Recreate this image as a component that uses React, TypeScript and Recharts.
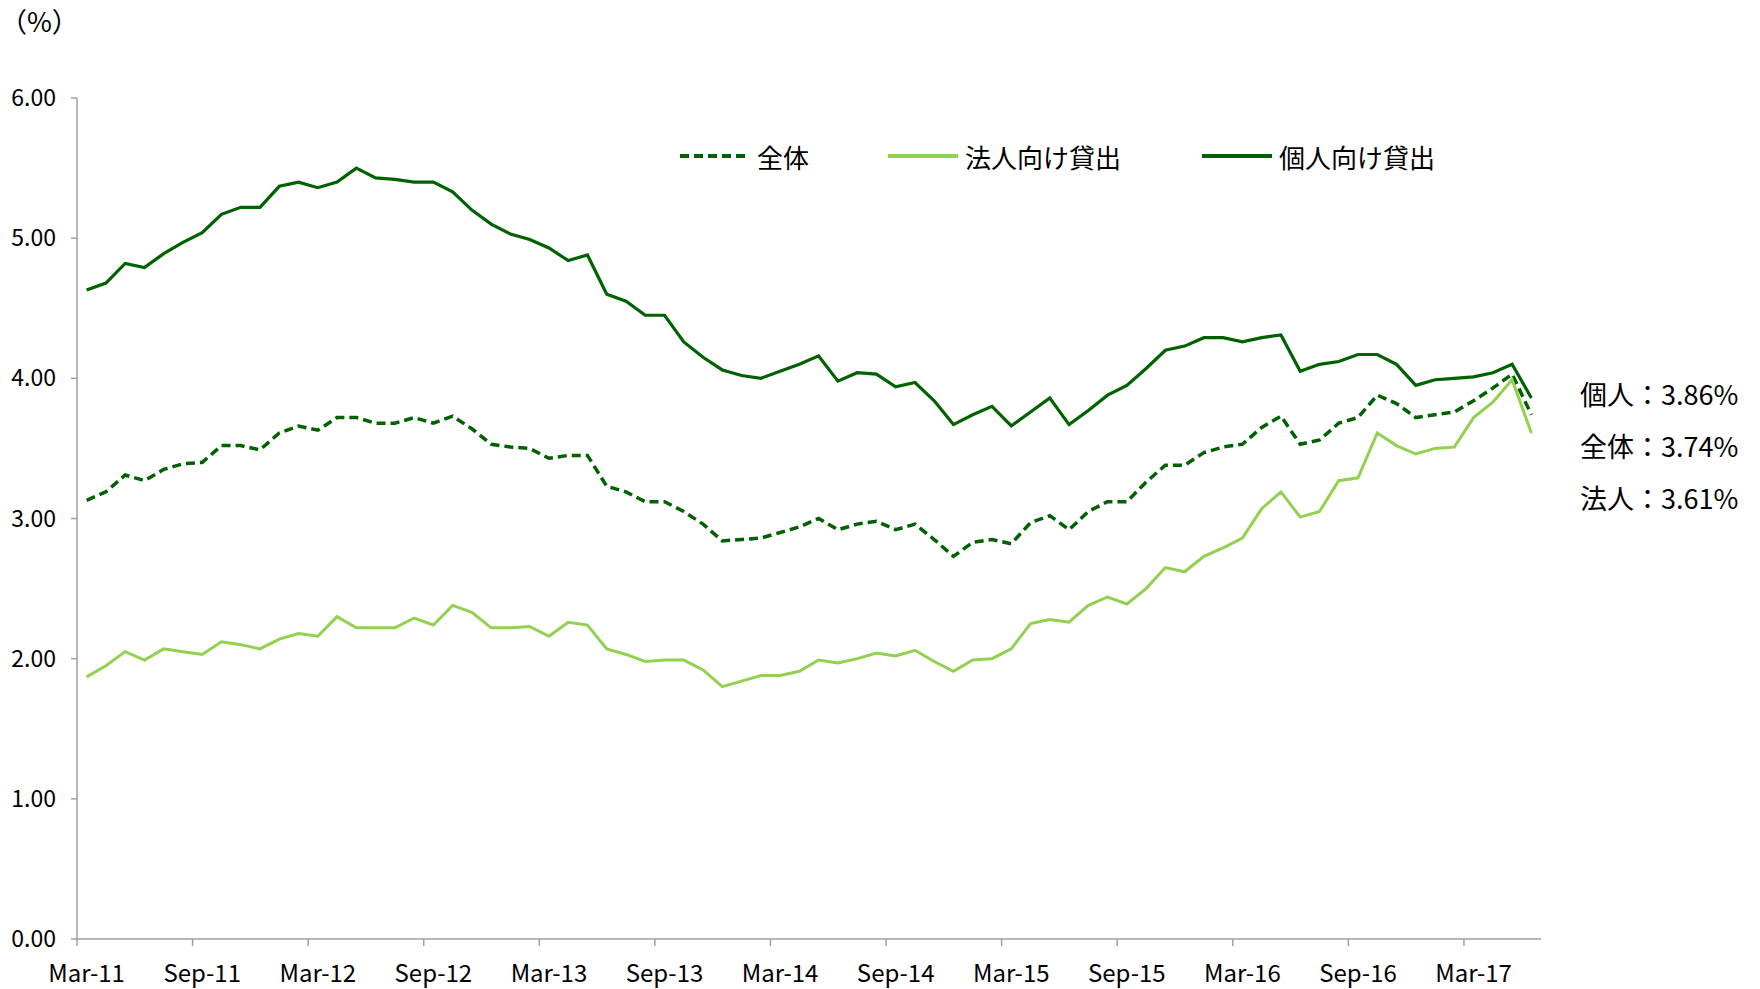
import React from "react";
import { LineChart, Line, XAxis, YAxis } from "recharts";

const categories: string[] = [
  "Mar-11","Apr-11","May-11","Jun-11","Jul-11","Aug-11","Sep-11","Oct-11","Nov-11","Dec-11",
  "Jan-12","Feb-12","Mar-12","Apr-12","May-12","Jun-12","Jul-12","Aug-12","Sep-12","Oct-12","Nov-12","Dec-12",
  "Jan-13","Feb-13","Mar-13","Apr-13","May-13","Jun-13","Jul-13","Aug-13","Sep-13","Oct-13","Nov-13","Dec-13",
  "Jan-14","Feb-14","Mar-14","Apr-14","May-14","Jun-14","Jul-14","Aug-14","Sep-14","Oct-14","Nov-14","Dec-14",
  "Jan-15","Feb-15","Mar-15","Apr-15","May-15","Jun-15","Jul-15","Aug-15","Sep-15","Oct-15","Nov-15","Dec-15",
  "Jan-16","Feb-16","Mar-16","Apr-16","May-16","Jun-16","Jul-16","Aug-16","Sep-16","Oct-16","Nov-16","Dec-16",
  "Jan-17","Feb-17","Mar-17","Apr-17","May-17","Jun-17",
];

const tickLabels: string[] = [
  "Mar-11","Sep-11","Mar-12","Sep-12","Mar-13","Sep-13","Mar-14",
  "Sep-14","Mar-15","Sep-15","Mar-16","Sep-16","Mar-17",
];

const yTicks: number[] = [0, 1, 2, 3, 4, 5, 6];

// 全体
const totalSeries: number[] = [
  3.13,3.19,3.31,3.27,3.35,3.39,3.40,3.52,3.52,3.49,
  3.61,3.66,3.63,3.72,3.72,3.68,3.68,3.72,3.68,3.73,
  3.64,3.53,3.51,3.50,3.43,3.45,3.45,3.23,3.19,3.12,
  3.12,3.05,2.96,2.84,2.85,2.86,2.90,2.94,3.00,2.92,
  2.96,2.98,2.92,2.96,2.85,2.73,2.83,2.85,2.82,2.97,
  3.02,2.92,3.05,3.12,3.12,3.26,3.38,3.38,3.47,3.51,
  3.53,3.65,3.73,3.53,3.56,3.68,3.72,3.88,3.82,3.72,
  3.74,3.76,3.84,3.93,4.03,3.74,
];

// 法人向け貸出
const corporateSeries: number[] = [
  1.87,1.95,2.05,1.99,2.07,2.05,2.03,2.12,2.10,2.07,
  2.14,2.18,2.16,2.30,2.22,2.22,2.22,2.29,2.24,2.38,
  2.33,2.22,2.22,2.23,2.16,2.26,2.24,2.07,2.03,1.98,
  1.99,1.99,1.92,1.80,1.84,1.88,1.88,1.91,1.99,1.97,
  2.00,2.04,2.02,2.06,1.98,1.91,1.99,2.00,2.07,2.25,
  2.28,2.26,2.38,2.44,2.39,2.50,2.65,2.62,2.73,2.79,
  2.86,3.07,3.19,3.01,3.05,3.27,3.29,3.61,3.52,3.46,
  3.50,3.51,3.72,3.83,3.99,3.61,
];

// 個人向け貸出
const personalSeries: number[] = [
  4.63,4.68,4.82,4.79,4.89,4.97,5.04,5.17,5.22,5.22,
  5.37,5.40,5.36,5.40,5.50,5.43,5.42,5.40,5.40,5.33,
  5.20,5.10,5.03,4.99,4.93,4.84,4.88,4.60,4.55,4.45,
  4.45,4.26,4.15,4.06,4.02,4.00,4.05,4.10,4.16,3.98,
  4.04,4.03,3.94,3.97,3.84,3.67,3.74,3.80,3.66,3.76,
  3.86,3.67,3.77,3.88,3.95,4.07,4.20,4.23,4.29,4.29,
  4.26,4.29,4.31,4.05,4.10,4.12,4.17,4.17,4.10,3.95,
  3.99,4.00,4.01,4.04,4.10,3.86,
];

const data = categories.map((c, i) => ({
  label: c,
  total: totalSeries[i],
  corporate: corporateSeries[i],
  personal: personalSeries[i],
}));

const W = 1760;
const H = 989;
const PLOT_LEFT = 77;
const PLOT_RIGHT = 1541;
const PLOT_TOP = 98;
const PLOT_BOTTOM = 939;
const BAND = (PLOT_RIGHT - PLOT_LEFT) / categories.length;

const AXIS = "#a0a0a0";
const DARK = "#006100";
const LIGHT = "#92d050";
const FONT = "'Noto Sans CJK JP', 'Noto Sans', sans-serif";
const TICK_SIZE = 7;
const TICK_MARGIN = 19;

const XTick = (props: any) => {
  const { x, y, payload } = props;
  const axisY = y - TICK_SIZE - TICK_MARGIN;
  return (
    <g>
      <line
        x1={x - BAND / 2}
        x2={x - BAND / 2}
        y1={axisY}
        y2={axisY + TICK_SIZE}
        stroke={AXIS}
        strokeWidth={1.5}
      />
      <text x={x} y={y} dy="0.71em" textAnchor="middle" fontSize={24} fill="#000" fontFamily={FONT}>
        {payload.value}
      </text>
    </g>
  );
};

const legendItems = [
  { name: "全体", color: DARK, dash: "9 5", width: 4, left: 680 },
  { name: "法人向け貸出", color: LIGHT, dash: undefined, width: 4, left: 888 },
  { name: "個人向け貸出", color: DARK, dash: undefined, width: 4, left: 1202 },
];

const last = categories.length - 1;
const annotations = [
  { text: `個人：${personalSeries[last].toFixed(2)}%`, y: 394 },
  { text: `全体：${totalSeries[last].toFixed(2)}%`, y: 446 },
  { text: `法人：${corporateSeries[last].toFixed(2)}%`, y: 498 },
];

export default function App() {
  return (
    <div
      style={{
        position: "absolute",
        left: 0,
        top: 0,
        width: W,
        height: H,
        background: "#fff",
        fontFamily: FONT,
        color: "#000",
      }}
    >
      <LineChart
        width={W}
        height={H}
        data={data}
        margin={{ top: PLOT_TOP, right: W - PLOT_RIGHT, bottom: 5, left: PLOT_LEFT - 70 }}
      >
        <XAxis
          dataKey="label"
          type="category"
          ticks={tickLabels}
          interval={0}
          padding={{ left: BAND / 2, right: BAND / 2 }}
          height={H - PLOT_BOTTOM - 5}
          tickLine={false}
          tickSize={TICK_SIZE}
          tickMargin={TICK_MARGIN}
          axisLine={{ stroke: AXIS, strokeWidth: 1.5 }}
          tick={<XTick />}
        />
        <YAxis
          type="number"
          domain={[0, 6]}
          ticks={yTicks}
          interval={0}
          width={70}
          tickSize={6}
          tickMargin={15}
          tickFormatter={(v: number) => v.toFixed(2)}
          tick={{ fontSize: 23, fill: "#000", fontFamily: FONT }}
          tickLine={{ stroke: AXIS, strokeWidth: 1.5 }}
          axisLine={{ stroke: AXIS, strokeWidth: 1.5 }}
        />
        <Line
          type="linear"
          dataKey="total"
          name="全体"
          stroke={DARK}
          strokeWidth={3.5}
          strokeDasharray="9 5"
          dot={false}
          activeDot={false}
          isAnimationActive={false}
        />
        <Line
          type="linear"
          dataKey="corporate"
          name="法人向け貸出"
          stroke={LIGHT}
          strokeWidth={3}
          dot={false}
          activeDot={false}
          isAnimationActive={false}
        />
        <Line
          type="linear"
          dataKey="personal"
          name="個人向け貸出"
          stroke={DARK}
          strokeWidth={3.2}
          dot={false}
          activeDot={false}
          isAnimationActive={false}
        />
      </LineChart>

      <div style={{ position: "absolute", left: 0, top: 4, fontSize: 27, lineHeight: "34px" }}>（%）</div>

      {legendItems.map((it) => (
        <div
          key={it.name}
          style={{
            position: "absolute",
            left: it.left,
            top: 156 - 18,
            height: 36,
            display: "flex",
            alignItems: "center",
            fontSize: 26,
            whiteSpace: "nowrap",
          }}
        >
          <svg width={70} height={10} style={{ marginRight: 7 }}>
            <line
              x1={0}
              x2={70}
              y1={5}
              y2={5}
              stroke={it.color}
              strokeWidth={it.width}
              strokeDasharray={it.dash}
            />
          </svg>
          <span>{it.name}</span>
        </div>
      ))}

      {annotations.map((a) => (
        <div
          key={a.text}
          style={{
            position: "absolute",
            left: 1580,
            top: a.y - 18,
            height: 36,
            lineHeight: "36px",
            fontSize: 27,
            whiteSpace: "nowrap",
          }}
        >
          {a.text}
        </div>
      ))}
    </div>
  );
}
